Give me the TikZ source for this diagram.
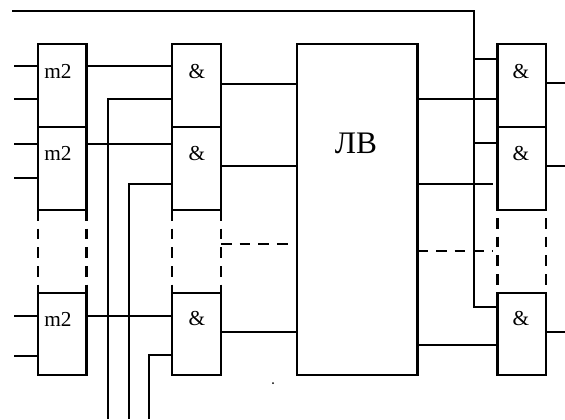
\documentclass[tikz,border=0pt]{standalone}
\usepackage{fontspec}
\setmainfont{Liberation Serif}
\usetikzlibrary{positioning}
\tikzset{
  blok/.style={draw, line width=1.7pt, minimum width=36.4pt, minimum height=#1, inner sep=0pt, outer sep=0pt},
  blok/.default=62.25pt,
  wire/.style={line width=1.4pt},
  wiredash/.style={line width=1.4pt, dash pattern=on 8pt off 6pt},
  gap/.style={line width=1.7pt, dash pattern=on 8pt off 6pt},
  gapb/.style={line width=1.7pt, dash pattern=on 8pt off 6pt, dash phase=8pt},
  lbl/.style={inner sep=0pt, font=\fontsize{16}{16}\selectfont},
}
\begin{document}
\begin{tikzpicture}[x=0.75pt, y=-0.75pt]
  \useasboundingbox (0,0) rectangle (565,419);
  \node[blok, anchor=north west] (m1) at (38,44) {};
  \node[blok, below=0pt of m1] (m2) {};
  \node[blok=61.5pt, anchor=north west] (m3) at (38,293) {};
  \node[blok, anchor=north west] (a1) at (172.3,44) {};
  \node[blok, below=0pt of a1] (a2) {};
  \node[blok=61.5pt, anchor=north west] (a3) at (172.3,293) {};
  \node[blok=248pt, minimum width=90.5pt, anchor=north west] (lv) at (296.7,44) {};
  \node[blok, anchor=north west] (b1) at (497.5,44) {};
  \node[blok, below=0pt of b1] (b2) {};
  \node[blok=61.5pt, anchor=north west] (b3) at (497.5,293) {};
  % labels
  \foreach \n/\x/\y in {tm1/58/71,tm2/58/153,tm3/58/319}
    \node[lbl] (\n) at (\x,\y) {m2};
  \foreach \n/\x/\y in {ta1/197/72,ta2/197/154,ta3/197/319,tb1/521/72,tb2/521/154,tb3/521/319}
    \node[lbl] (\n) at (\x,\y) {\&};
  \node[lbl, font=\fontsize{23.5}{24}\selectfont] (tlv) at (356,143) {ЛВ};
  % dashed parts of the columns
  \foreach \a/\b in {m2/m3,a2/a3}{
    \draw[gap] (\a.south west) -- (\b.north west);
    \draw[gap] (\a.south east) -- (\b.north east);
  }
  \draw[gapb] (b2.south west) -- (b3.north west);
  \draw[gapb] (b2.south east) -- (b3.north east);
  % inputs of m2
  \foreach \b/\y in {m1/66,m1/99,m2/144,m2/178,m3/316,m3/356}{
    \coordinate (in\y) at (14,\y);
    \draw[wire] (in\y) -- (in\y -| \b.west);
  }
  % m2 to &
  \foreach \a/\b/\y in {m1/a1/66,m2/a2/144,m3/a3/316}
    \draw[wire] (in\y -| \a.east) -- (in\y -| \b.west);
  % vertical lines from below
  \coordinate (bus1) at (108,419);
  \coordinate (bus2) at (129,419);
  \coordinate (bus3) at (149,419);
  \draw[wire] (bus1) |- (a1.west |- 0,99);
  \draw[wire] (bus2) |- (a2.west |- 0,184);
  \draw[wire] (bus3) |- (a3.west |- 0,355);
  % & to ЛВ
  \foreach \a/\y in {a1/84,a2/166,a3/332}
    \draw[wire] (\a.east |- 0,\y) -- (lv.west |- 0,\y);
  \coordinate (dl) at (288,244);
  \draw[wiredash] (a2.east |- dl) -- (dl);
  % ЛВ to right column
  \draw[wire] (lv.east |- 0,99) -- (b1.west |- 0,99);
  \draw[wire] (lv.east |- 0,345) -- (b3.west |- 0,345);
  \coordinate (e1) at (492.5,184);
  \coordinate (e2) at (492.5,251);
  \draw[wire] (lv.east |- e1) -- (e1);
  \draw[wiredash] (lv.east |- e2) -- (e2);
  % top line
  \coordinate (top) at (12,11);
  \coordinate (sel) at (474,307);
  \draw[wire] (top) -| (sel) -- (sel -| b3.west);
  \draw[wire] (sel |- 0,59) -- (b1.west |- 0,59);
  \draw[wire] (sel |- 0,143) -- (b2.west |- 0,143);
  % outputs
  \foreach \b/\y in {b1/83,b2/166,b3/332}{
    \coordinate (out\y) at (565,\y);
    \draw[wire] (\b.east |- out\y) -- (out\y);
  }
  \node[circle, fill, inner sep=0pt, minimum size=1.5pt] (pt) at (273,383) {};
\end{tikzpicture}
\end{document}
